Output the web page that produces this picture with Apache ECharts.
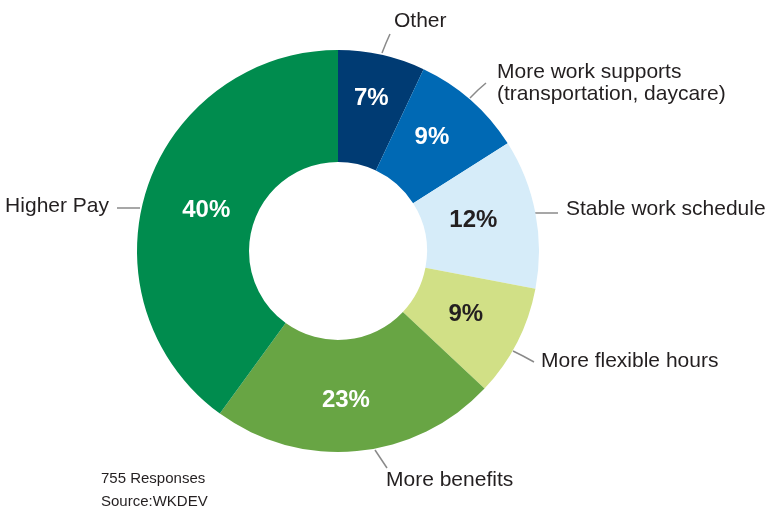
<!DOCTYPE html>
<html>
<head>
<meta charset="utf-8">
<script src="https://cdn.jsdelivr.net/npm/echarts@6/dist/echarts.min.js"></script>
<style>
  html, body { margin: 0; padding: 0; background: #ffffff; }
  #chart { width: 768px; height: 510px; }
</style>
</head>
<body>
<div id="chart"></div>
<script>
// Survey answers, clockwise from 12 o'clock
const categories = [
  'Other',
  'More work supports\n(transportation, daycare)',
  'Stable work schedule',
  'More flexible hours',
  'More benefits',
  'Higher Pay'
];
const shares = [7, 9, 12, 9, 23, 40];
const footnotes = ['755 Responses', 'Source:WKDEV'];

// Styling
const sliceColors = ['#003b73', '#0069b4', '#d6ecf9', '#d1e086', '#68a544', '#008c4e'];
const pctColors = ['#ffffff', '#ffffff', '#231f20', '#231f20', '#ffffff', '#ffffff'];
const FONT = '"Liberation Sans", Arial, Helvetica, sans-serif';
const CENTER = [338, 251];
const RADIUS = [89, 201];

// Nudges for the percentage labels inside the ring
const pctShift = [[1, -8], [-4, -3], [-10, -3], [-4, -4], [-6, 2], [9, 5]];

// Callout placement: text anchor, alignment and leader line
const callouts = [
  { x: 394, y: 21,  align: 'left',  line: [[382, 53], [386, 43], [390, 34]] },
  { x: 497, y: 83,  align: 'left',  line: [[470, 98], [478, 90], [486, 83]] },
  { x: 566, y: 209, align: 'left',  line: [[535, 213], [546, 213], [558, 213]] },
  { x: 541, y: 361, align: 'left',  line: [[513, 351], [523, 356], [534, 362]] },
  { x: 386, y: 480, align: 'left',  line: [[375, 450], [381, 459], [387, 468]] },
  { x: 109, y: 206, align: 'right', line: [[140, 208], [128, 208], [117, 208]] }
];

const ringData = categories.map((name, i) => ({
  name: name,
  value: shares[i],
  itemStyle: { color: sliceColors[i] },
  label: { color: pctColors[i] }
}));

const calloutData = categories.map((name, i) => ({
  name: name,
  value: shares[i]
}));

const chart = echarts.init(document.getElementById('chart'), null, { renderer: 'canvas' });

chart.setOption({
  backgroundColor: '#ffffff',
  animation: false,
  series: [
    {
      type: 'pie',
      center: CENTER,
      radius: RADIUS,
      startAngle: 90,
      clockwise: true,
      avoidLabelOverlap: false,
      silent: true,
      data: ringData,
      label: {
        show: true,
        position: 'inside',
        formatter: '{c}%',
        fontFamily: FONT,
        fontSize: 24,
        fontWeight: 'bold'
      },
      labelLine: { show: false },
      labelLayout: function (p) {
        const s = pctShift[p.dataIndex];
        return { dx: s[0], dy: s[1] };
      }
    },
    {
      type: 'pie',
      center: CENTER,
      radius: RADIUS,
      startAngle: 90,
      clockwise: true,
      avoidLabelOverlap: false,
      silent: true,
      data: calloutData,
      itemStyle: { color: 'rgba(0,0,0,0)' },
      label: {
        show: true,
        position: 'outside',
        formatter: '{b}',
        fontFamily: FONT,
        fontSize: 21,
        lineHeight: 22,
        color: '#231f20'
      },
      labelLine: {
        show: true,
        length: 10,
        length2: 10,
        lineStyle: { color: '#8a8a8a', width: 1.5 }
      },
      labelLayout: function (p) {
        const c = callouts[p.dataIndex];
        return {
          x: c.x,
          y: c.y,
          align: c.align,
          verticalAlign: 'middle',
          labelLinePoints: c.line
        };
      }
    }
  ],
  graphic: footnotes.map((t, i) => ({
    type: 'text',
    left: 101,
    top: 471 + i * 23,
    style: {
      text: t,
      font: '15px ' + FONT,
      fill: '#231f20'
    }
  }))
});
</script>
</body>
</html>
